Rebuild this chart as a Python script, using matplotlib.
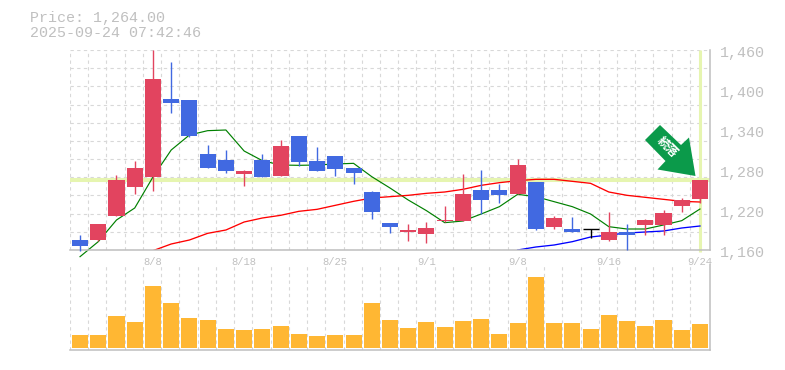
import matplotlib
matplotlib.use("Agg")
import matplotlib.pyplot as plt
from matplotlib.patches import Polygon

# candles
opens = [1175, 1175, 1211, 1254.5, 1269.5, 1386.5, 1385, 1304, 1295, 1274, 1295, 1271, 1331, 1293.5, 1301, 1283, 1247, 1200.5, 1187, 1184, 1203.5, 1203.5, 1250, 1250, 1244, 1262, 1194.5, 1191.5, 1191.5, 1175, 1187, 1197.5, 1197.5, 1226, 1236.5]
closes = [1166, 1199, 1265, 1283, 1416.5, 1380.5, 1331, 1283, 1278.5, 1278.5, 1269.5, 1316, 1292, 1278.5, 1281.5, 1275.5, 1217, 1194.5, 1190, 1193, 1205, 1244, 1235, 1242.5, 1287.5, 1191.5, 1208, 1187, 1191.5, 1187, 1182.5, 1205, 1215.5, 1235, 1265]
highs = [1182.5, 1199, 1272.5, 1293.5, 1460, 1442, 1385, 1317.5, 1310, 1280, 1304, 1325, 1331, 1314.5, 1301, 1283, 1248.5, 1200.5, 1199, 1202, 1226, 1274, 1280, 1259, 1296.5, 1262, 1211, 1209.5, 1191.5, 1217, 1199, 1206.5, 1220, 1238, 1265]
lows = [1158.5, 1173.5, 1211, 1244, 1248.5, 1365.5, 1329.5, 1283, 1275.5, 1256, 1269.5, 1271, 1286, 1278.5, 1271, 1259, 1206.5, 1185.5, 1173.5, 1170.5, 1202, 1203.5, 1214, 1230.5, 1244, 1190, 1191.5, 1187, 1178, 1173.5, 1160, 1182.5, 1182.5, 1217, 1230.5]
volumes = [13, 13, 32, 26, 62, 45, 30, 28, 19, 18, 19, 22, 14, 12, 13, 13, 45, 28, 20, 26, 21, 27, 29, 14, 25, 71, 25, 25, 19, 33, 27, 22, 28, 18, 24]

green_ma = [1150, 1172.5, 1205, 1223, 1269.5, 1310, 1332.5, 1339, 1340, 1308.5, 1294, 1287.5, 1287, 1287.5, 1289, 1290, 1270, 1253, 1235, 1219, 1201, 1203.5, 1214, 1225, 1243.5, 1240, 1232.5, 1225, 1214, 1195, 1191.5, 1191.5, 1197.5, 1204, 1221.5]
red_ma = [None, None, None, None, 1159, 1169, 1175, 1185, 1190, 1202, 1208, 1212, 1218, 1221, 1227, 1233, 1238, 1240, 1242, 1245, 1247, 1251, 1257, 1261, 1264, 1266, 1266, 1263, 1260, 1247, 1242, 1239, 1236, 1233, 1232]
blue_ma = [None] * 24 + [1160, 1164.5, 1167.5, 1172.5, 1179.5, 1182.5, 1185.5, 1187, 1188.5, 1193, 1196]

tick_idx = [4, 9, 14, 19, 24, 29, 34]
tick_labels = ["8/8", "8/18", "8/25", "9/1", "9/8", "9/16", "9/24"]
price_ticks = [1160, 1220, 1280, 1340, 1400, 1460]
price_labels = ["1,160", "1,220", "1,280", "1,340", "1,400", "1,460"]
last_price = 1264.5

UP = "#E2445F"
DOWN = "#4169E1"
GRID = "#D8D8D8"
TEXT = "#C0C0C0"
MARK = "#E6F5B0"
W, H = 785, 370
mono = "Liberation Mono"


def panel(x0, y0, x1, y1):
    return fig.add_axes([x0 / W, 1 - y1 / H, (x1 - x0) / W, (y1 - y0) / H])


def style(ax):
    ax.set_xlim(-0.55, 34.55)
    ax.patch.set_alpha(0)
    for s in ["top", "left"]:
        ax.spines[s].set_visible(False)
    for s in ["bottom", "right"]:
        ax.spines[s].set_color("#BEBEBE")
        ax.spines[s].set_linewidth(1.1)
    for i in range(35):
        ax.axvline(i - 0.55, color=GRID, lw=0.8, ls=(0, (3, 3)), zorder=0)
    ax.tick_params(length=0)


fig = plt.figure(figsize=(W / 100, H / 100), dpi=100)

ax = panel(70, 50, 710, 250)
style(ax)
ax.set_ylim(1160, 1460)
for k in range(12):
    ax.axhline(1160 + k * 300 / 11, color=GRID, lw=0.8, ls=(0, (3, 3)), zorder=0)

ax.axhline(last_price, color=MARK, lw=2.9, zorder=1)
ax.plot([34, 34], [1157, 1460], color=MARK, lw=2.2, zorder=1, solid_capstyle="butt", clip_on=False)

x = list(range(35))
ax.plot(x, green_ma, color="#008000", lw=0.85, zorder=2, clip_on=False)
ax.plot(x, red_ma, color="#FF0000", lw=0.95, zorder=2)
ax.plot(x, blue_ma, color="#0000FF", lw=0.95, zorder=2)

for i in x:
    o, c = opens[i], closes[i]
    col = UP if c > o else DOWN
    if c == o:
        col = "black"
    ax.vlines(i, lows[i], highs[i], color=col, lw=1.0, zorder=3, clip_on=False)
    if c == o:
        ax.hlines(c, i - 0.44, i + 0.44, color=col, lw=1.0, zorder=3)
    else:
        ax.bar(i, abs(c - o), bottom=min(o, c), width=0.88, color=col, zorder=3)

ax.set_xticks(tick_idx)
ax.set_xticklabels(tick_labels, family=mono, fontsize=7.6, color=TEXT)
ax.tick_params(axis="x", pad=5)
ax.set_yticks([])
for p, lab in zip(price_ticks, price_labels):
    ax.annotate(lab, (1, p), xycoords=ax.get_yaxis_transform(), xytext=(10, -3), textcoords="offset pixels",
                family=mono, fontsize=10.8, color=TEXT, va="center", annotation_clip=False)

vax = panel(70, 265, 710, 350)
style(vax)
vax.set_ylim(-2, 83)
vax.bar(x, volumes, width=0.88, color="#FFB733", zorder=3)
vax.set_xticks([])
vax.set_yticks([])

fig.text(30 / W, 1 - 18 / H, "Price: 1,264.00", family=mono, fontsize=10.8, color=TEXT, va="center")
fig.text(30 / W, 1 - 33 / H, "2025-09-24 07:42:46", family=mono, fontsize=10.8, color=TEXT, va="center")

# signal arrow, in pixels from top left
arrow = [(660, 125), (645, 140), (665.5, 161), (657.5, 169.5), (695.5, 176), (689, 137.5), (681, 145)]
pts = [(px / W, 1 - py / H) for px, py in arrow]
fig.add_artist(Polygon(pts, closed=True, transform=fig.transFigure, facecolor="#0B9A4A", edgecolor="none", zorder=5))
fig.text(667 / W, 1 - 147 / H, "続落", color="white", family="Noto Sans CJK JP", fontweight="bold",
         fontsize=8.5, rotation=-45, ha="center", va="center", rotation_mode="anchor", zorder=6)

fig.savefig("out.png", dpi=100)
